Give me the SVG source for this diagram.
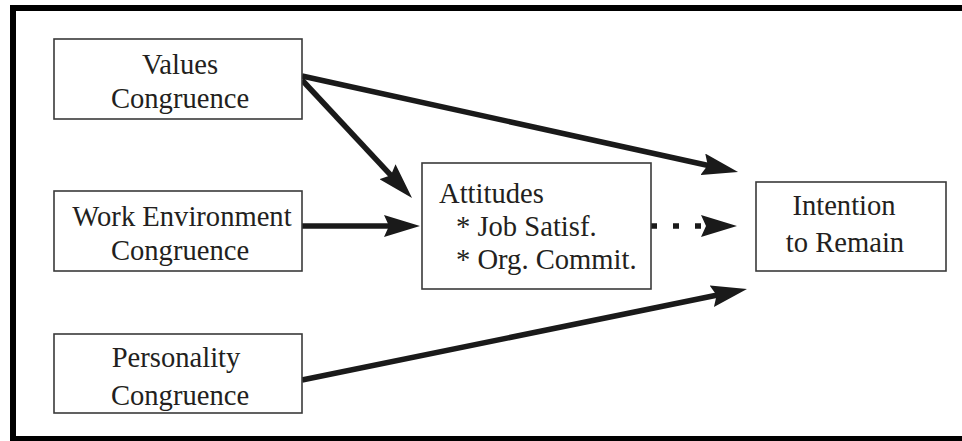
<svg xmlns="http://www.w3.org/2000/svg" width="962" height="441" viewBox="0 0 962 441">
  <style>
    .box { fill: #ffffff; stroke: #3a3a3a; stroke-width: 1.6; }
    .lbl { font-family: "Liberation Serif", "Times New Roman", serif; font-size: 28.6px; fill: #231f20; }
    .mid { text-anchor: middle; }
    .conn { stroke: #1a1a1a; stroke-width: 5.5; fill: none; marker-end: url(#ah); }
    .frame { fill: #000000; }
  </style>
  <defs>
    <marker id="ah" markerUnits="userSpaceOnUse" viewBox="0 0 36 22" markerWidth="36" markerHeight="22" refX="16" refY="11" orient="auto">
      <path d="M0,0 L36,11 L0,22 L5,11 Z" fill="#1a1a1a"/>
    </marker>
  </defs>
  <rect width="962" height="441" fill="#ffffff"/>
  <g id="frame">
    <rect class="frame" x="10" y="5" width="952" height="6"/>
    <rect class="frame" x="10" y="5" width="6" height="436"/>
    <rect class="frame" x="10" y="436" width="952" height="5"/>
  </g>
  <g id="connectors">
    <path class="conn" d="M302,76 L718.5,167.7"/>
    <path class="conn" d="M302,80 L398.4,183.4"/>
    <path class="conn" d="M302,226 L400,226"/>
    <path class="conn" d="M651,226 L717,226" stroke-dasharray="6 16"/>
    <path class="conn" d="M302,380 L727.4,293"/>
  </g>
  <g id="values">
    <rect class="box" x="54" y="39" width="248" height="80"/>
    <text class="lbl mid" x="180" y="74">Values</text>
    <text class="lbl mid" x="180" y="108">Congruence</text>
  </g>
  <g id="work">
    <rect class="box" x="54" y="191" width="248" height="80"/>
    <text class="lbl mid" x="182" y="226">Work Environment</text>
    <text class="lbl mid" x="180" y="260">Congruence</text>
  </g>
  <g id="personality">
    <rect class="box" x="54" y="334" width="248" height="79"/>
    <text class="lbl mid" x="176" y="367">Personality</text>
    <text class="lbl mid" x="180" y="405">Congruence</text>
  </g>
  <g id="attitudes">
    <rect class="box" x="422" y="163" width="229" height="126"/>
    <text class="lbl" x="439" y="203">Attitudes</text>
    <text class="lbl" x="456" y="236">* Job Satisf.</text>
    <text class="lbl" x="456" y="269">* Org. Commit.</text>
  </g>
  <g id="intention">
    <rect class="box" x="756" y="182" width="190" height="89"/>
    <text class="lbl mid" x="844" y="215">Intention</text>
    <text class="lbl mid" x="845" y="252">to Remain</text>
  </g>
</svg>
